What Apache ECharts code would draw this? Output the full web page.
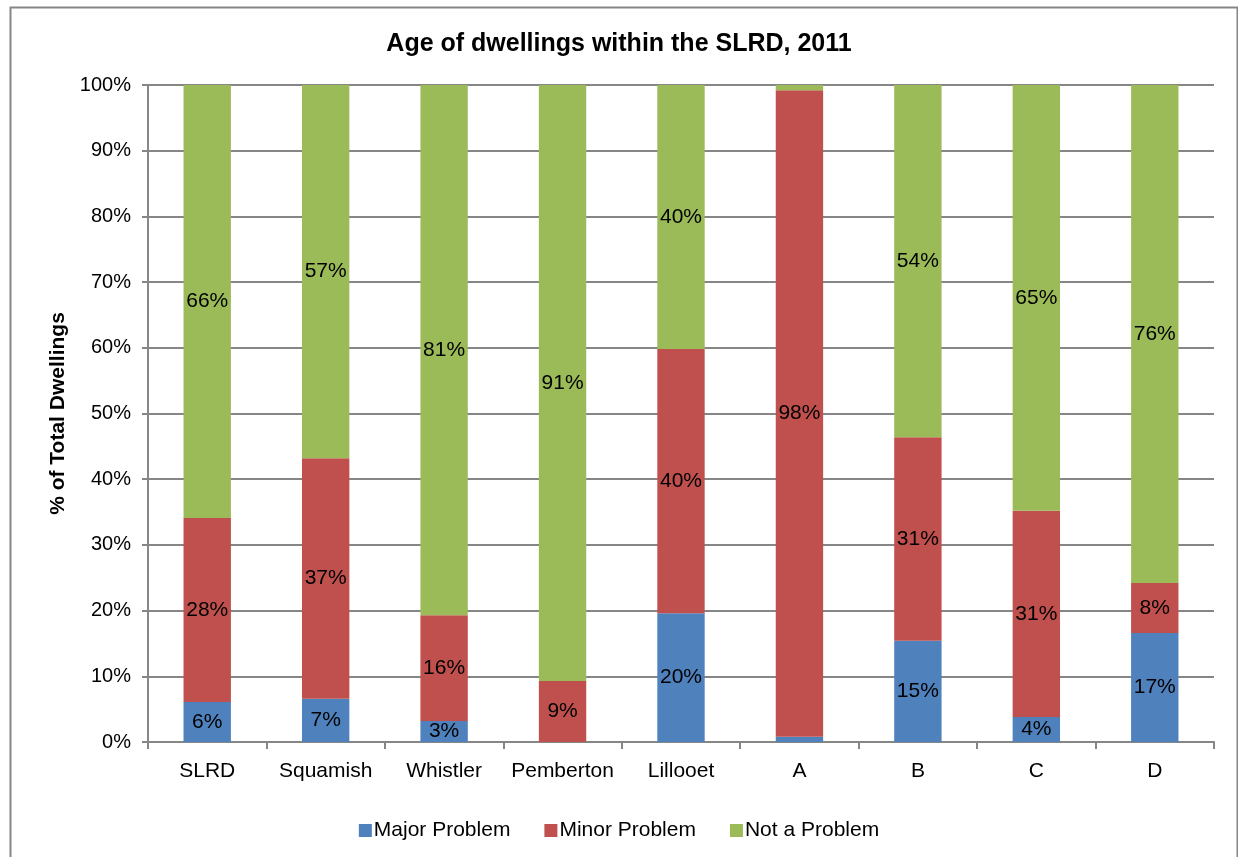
<!DOCTYPE html>
<html>
<head>
<meta charset="utf-8">
<title>Age of dwellings within the SLRD, 2011</title>
<script src="https://cdn.jsdelivr.net/npm/echarts@6/dist/echarts.min.js"></script>
<style>
  html, body { margin: 0; padding: 0; background: #fff; }
  #chart { width: 1238px; height: 857px; }
</style>
</head>
<body>
<div id="chart"></div>
<script>
// Areas of the Squamish-Lillooet Regional District
const categories = ['SLRD', 'Squamish', 'Whistler', 'Pemberton', 'Lillooet', 'A', 'B', 'C', 'D'];

// Share of dwellings (%) by condition
const majorProblem = [6.1, 6.6, 3.2, 0, 19.6, 0.8, 15.4, 3.8, 16.6];
const minorProblem = [28.0, 36.6, 16.1, 9.3, 40.2, 98.4, 31.0, 31.4, 7.6];
const notAProblem  = [65.9, 56.8, 80.7, 90.7, 40.2, 0.8, 53.6, 64.8, 75.8];

const yTicks = [0, 10, 20, 30, 40, 50, 60, 70, 80, 90, 100];

const FONT = '"Liberation Sans", Arial, sans-serif';
const GRID_GRAY = '#868686';
const TEXT_SIZE = 20;

function makeSeries(name, data, color) {
  return {
    name: name,
    type: 'bar',
    stack: 'total',
    data: data,
    barWidth: '40%',
    itemStyle: { color: color },
    label: {
      show: true,
      position: 'inside',
      color: '#000',
      fontFamily: FONT,
      fontSize: 21,
      formatter: function (p) {
        return p.value < 1.5 ? '' : Math.round(p.value) + '%';
      }
    },
    emphasis: { disabled: true }
  };
}

const chart = echarts.init(document.getElementById('chart'), null, { renderer: 'canvas' });

chart.setOption({
  animation: false,
  backgroundColor: '#fff',
  textStyle: { fontFamily: FONT },
  title: {
    text: 'Age of dwellings within the SLRD, 2011',
    left: 'center',
    top: 27,
    textStyle: { fontFamily: FONT, fontSize: 25, fontWeight: 'bold', color: '#000' }
  },
  graphic: [{
    type: 'rect',
    left: 8,
    top: 5,
    shape: { width: 1227, height: 900 },
    style: { fill: 'none', stroke: GRID_GRAY, lineWidth: 2 },
    silent: true,
    z: 100
  }],
  legend: {
    top: 815,
    left: 'center',
    itemWidth: 13,
    itemHeight: 13,
    itemGap: 34,
    icon: 'rect',
    textStyle: { fontFamily: FONT, fontSize: 21, color: '#000', padding: [0, 0, 0, -3] },
    data: ['Major Problem', 'Minor Problem', 'Not a Problem']
  },
  grid: { left: 148, right: 24, top: 85, bottom: 115, containLabel: false },
  xAxis: {
    type: 'category',
    data: categories,
    boundaryGap: true,
    axisLine: { lineStyle: { color: GRID_GRAY, width: 2 } },
    axisTick: { show: true, interval: 0, alignWithLabel: false, length: 7, lineStyle: { color: GRID_GRAY, width: 2 } },
    axisLabel: { interval: 0, color: '#000', fontFamily: FONT, fontSize: 21, margin: 19 }
  },
  yAxis: {
    type: 'value',
    min: yTicks[0],
    max: yTicks[yTicks.length - 1],
    interval: 10,
    name: '% of Total Dwellings',
    nameLocation: 'middle',
    nameGap: 78,
    nameTextStyle: { fontFamily: FONT, fontSize: 21, fontWeight: 'bold', color: '#000' },
    axisLine: { show: true, lineStyle: { color: GRID_GRAY, width: 2 } },
    axisTick: { show: true, length: 6, lineStyle: { color: GRID_GRAY, width: 2 } },
    axisLabel: { color: '#000', fontFamily: FONT, fontSize: TEXT_SIZE, margin: 17, formatter: '{value}%' },
    splitLine: { show: true, lineStyle: { color: GRID_GRAY, width: 2 } }
  },
  series: [
    makeSeries('Major Problem', majorProblem, '#4F81BD'),
    makeSeries('Minor Problem', minorProblem, '#C0504D'),
    makeSeries('Not a Problem', notAProblem, '#9BBB59')
  ]
});
</script>
</body>
</html>
